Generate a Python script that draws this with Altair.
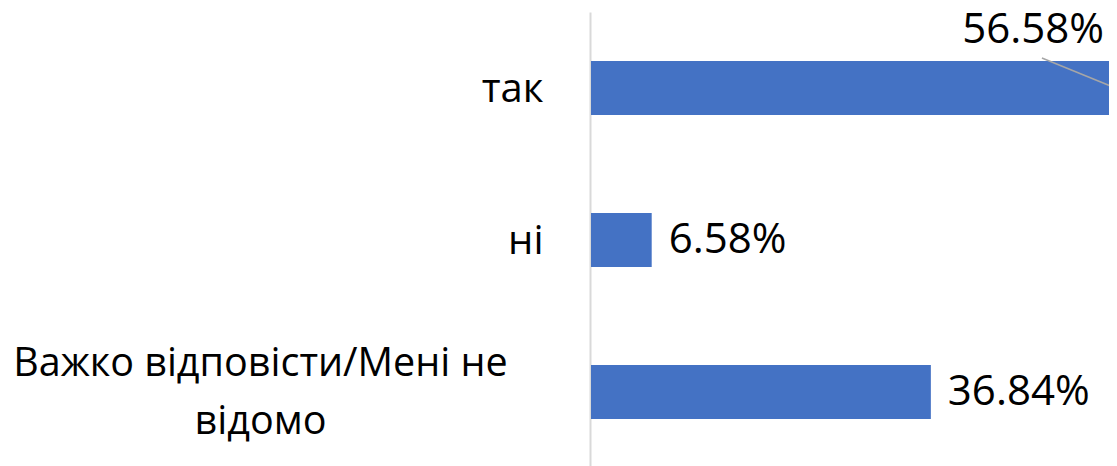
import altair as alt
import pandas as pd

categories = ["так", "ні", "Важко відповісти/Мені не відомо"]
values = [56.58, 6.58, 36.84]
labels = ["56.58%", "6.58%", "36.84%"]
label_place = ["above", "end", "end"]
x_max = 56.15  # visible end of the value axis (the "так" bar runs to the picture's edge)

LONG = categories[2]
FONT = "Open Sans"

df = pd.DataFrame({"cat": categories, "value": values, "label": labels, "place": label_place})
df["lead_start"] = df["value"] - 7.7

xscale = alt.Scale(domain=[0, x_max], nice=False, zero=True)
yscale = alt.Scale(domain=categories, paddingInner=0.645, paddingOuter=0.3225)

base = alt.Chart(df)

bars = base.mark_bar(color="#4472C4").encode(
    x=alt.X("value:Q", scale=xscale, axis=None),
    y=alt.Y(
        "cat:N",
        sort=categories,
        scale=yscale,
        axis=alt.Axis(
            orient="left",
            title=None,
            ticks=False,
            domain=True,
            domainColor="#d9d9d9",
            domainWidth=2,
            offset=1,
            labelExpr=f"datum.value == '{LONG}' ? '' : datum.value",
            labelAlign="right",
            labelBaseline="middle",
            labelPadding=47,
            labelOffset=2,
            labelFont=FONT,
            labelFontSize=40,
            labelColor="black",
            labelLimit=0,
        ),
    ),
)

end_labels = base.transform_filter(alt.datum.place == "end").mark_text(
    align="left", baseline="middle", dx=17, font=FONT, fontSize=42, color="black"
).encode(
    x=alt.X("value:Q", scale=xscale, axis=None),
    y=alt.Y(
        "cat:N",
        sort=categories,
        scale=yscale,
        axis=alt.Axis(
            orient="left",
            title=None,
            ticks=False,
            domain=False,
            labelExpr=f"datum.value == '{LONG}' ? ['Важко відповісти/Мені не', 'відомо'] : ''",
            labelAlign="center",
            labelBaseline="middle",
            labelPadding=331,
            labelOffset=-28,
            labelLineHeight=58,
            labelFont=FONT,
            labelFontSize=39.5,
            labelColor="black",
            labelLimit=0,
        ),
    ),
    text="label:N",
)

above_labels = base.transform_filter(alt.datum.place == "above").mark_text(
    align="right", baseline="middle", dx=-9, dy=-58, font=FONT, fontSize=42, color="black"
).encode(
    x=alt.X("value:Q", scale=xscale, axis=None),
    y=alt.Y("cat:N", sort=categories, scale=yscale, axis=None),
    text="label:N",
)

leader = base.transform_filter(alt.datum.place == "above").mark_rule(
    color="#a6a6a6", strokeWidth=1.5, yOffset=-30, y2Offset=-1
).encode(
    x=alt.X("lead_start:Q", scale=xscale, axis=None),
    x2="value:Q",
    y=alt.Y("cat:N", sort=categories, scale=yscale, axis=None),
    y2="cat:N",
)

chart = (
    alt.layer(bars, end_labels, above_labels, leader)
    .resolve_axis(y="independent")
    .properties(
        width=518,
        height=456,
        padding={"left": 583, "top": 4, "right": 0, "bottom": 0},
        autosize=alt.AutoSizeParams(type="none"),
        background="white",
    )
    .configure_view(stroke=None)
)

chart.save("out.html", embed_options={"renderer": "svg", "actions": False})
